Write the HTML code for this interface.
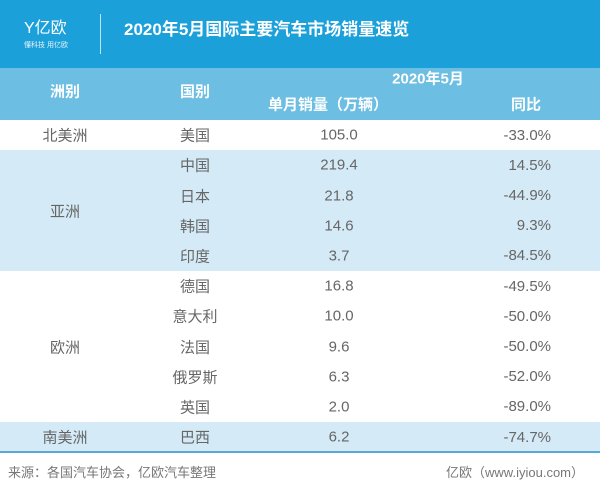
<!DOCTYPE html>
<html><head><meta charset="utf-8"><style>
body{margin:0;width:600px;height:491px;background:#fff;font-family:"Liberation Sans","Noto Sans CJK SC",sans-serif;position:relative;overflow:hidden}
.a{position:absolute}
.t{position:absolute;transform:translate(-50%,-50%);white-space:nowrap;color:#666;font-size:15px}
.h{color:#fff;font-weight:bold;font-size:15px}
</style></head><body>
<div class="a" style="left:0;top:0;width:600px;height:68px;background:#1ba0da"></div>
<div class="a" style="left:24px;top:14px;color:#fff;font-size:16px">Y亿欧</div>
<div class="a" style="left:24px;top:40px;color:#e6f4fb;font-size:7px">懂科技 用亿欧</div>
<div class="a" style="left:100px;top:14px;width:1px;height:40px;background:#bfe4f5"></div>
<div class="a" style="left:124px;top:15px;color:#fff;font-weight:bold;font-size:17px">2020年5月国际主要汽车市场销量速览</div>
<div class="a" style="left:0;top:68px;width:600px;height:52px;background:#6cbee3"></div>
<div class="t h" style="left:65px;top:91px">洲别</div>
<div class="t h" style="left:195px;top:91px">国别</div>
<div class="t h" style="left:428px;top:78px">2020年5月</div>
<div class="t h" style="left:328px;top:104px">单月销量（万辆）</div>
<div class="t h" style="left:526px;top:104px">同比</div>
<div id="rows"></div>
<div class="a" style="left:0;top:451px;width:600px;height:2px;background:#5aa8d8"></div>
<div class="a" style="left:8px;top:462px;color:#777;font-size:13px">来源：各国汽车协会，亿欧汽车整理</div>
<div class="a" style="right:16px;top:462px;color:#777;font-size:13px">亿欧（www.iyiou.com）</div>
<script>
const countries=["美国","中国","日本","韩国","印度","德国","意大利","法国","俄罗斯","英国","巴西"];
const sales=["105.0","219.4","21.8","14.6","3.7","16.8","10.0","9.6","6.3","2.0","6.2"];
const yoy=["-33.0%","14.5%","-44.9%","9.3%","-84.5%","-49.5%","-50.0%","-50.0%","-52.0%","-89.0%","-74.7%"];
const continents=[["北美洲",0,1,false],["亚洲",1,4,true],["欧洲",5,5,false],["南美洲",10,1,true]];
const top0=120,rh=30.2,root=document.getElementById('rows');
function add(cls,txt,x,y,name){const d=document.createElement('div');d.className=cls;d.textContent=txt;d.style.left=x+'px';d.style.top=y+'px';


root.appendChild(d);}
continents.forEach(c=>{const b=document.createElement('div');b.className='a';b.style.cssText=`left:0;top:${top0+c[1]*rh}px;width:600px;height:${c[2]*rh}px;background:${c[3]?'#d4ebf7':'#fff'}`;


root.appendChild(b);
add('t',c[0],65,top0+(c[1]+c[2]/2)*rh,'continent-label');});
countries.forEach((n,i)=>{const y=top0+(i+.5)*rh;add('t',n,195,y,'country-cell');add('t',sales[i],339,y,'sales-cell');
const d=document.createElement('div');d.className='a';d.textContent=yoy[i];d.style.cssText=`right:49px;top:${y-7.5}px;color:#666;font-size:15px;line-height:15px`;


root.appendChild(d);});
</script>
</body></html>
